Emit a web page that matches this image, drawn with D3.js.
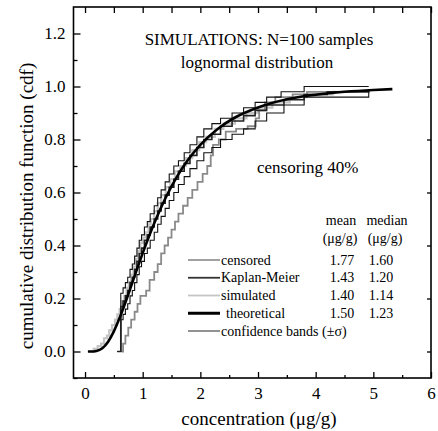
<!DOCTYPE html>
<html>
<head>
<meta charset="utf-8">
<script src="https://cdn.jsdelivr.net/npm/d3@7"></script>
<style>
  html, body { margin: 0; padding: 0; background: #fff; }
  svg { display: block; }
</style>
</head>
<body>
<svg id="chart" width="438" height="431" font-family="Liberation Serif"></svg>
<script>
// ---- data ----
const xTicks = [0, 1, 2, 3, 4, 5, 6];
const yTicks = [0.0, 0.2, 0.4, 0.6, 0.8, 1.0, 1.2];

const theoreticalX = [0.05, 0.1, 0.2, 0.3, 0.4, 0.5, 0.6, 0.7, 0.8, 0.9, 1.0, 1.2, 1.4, 1.6, 1.8, 2.0, 2.3, 2.6, 3.0, 3.5, 4.0, 4.5, 5.0, 5.33];
const theoreticalY = [0, 0, 0.002, 0.012, 0.037, 0.076, 0.127, 0.185, 0.247, 0.31, 0.371, 0.484, 0.581, 0.662, 0.727, 0.78, 0.84, 0.883, 0.921, 0.952, 0.969, 0.98, 0.987, 0.99];

const simulated = [[0.10,0],[0.15,0.01],[0.22,0.02],[0.28,0.03],[0.33,0.05],[0.38,0.06],[0.42,0.08],[0.47,0.10],[0.52,0.12],[0.56,0.14],[0.60,0.16],[0.64,0.19],[0.68,0.21],[0.72,0.24],[0.76,0.26],[0.80,0.29],[0.84,0.32],[0.88,0.35],[0.92,0.38],[0.96,0.41],[1.00,0.43],[1.05,0.45],[1.10,0.48],[1.14,0.50],[1.20,0.53],[1.26,0.56],[1.32,0.59],[1.40,0.62],[1.48,0.65],[1.56,0.68],[1.65,0.70],[1.75,0.73],[1.86,0.76],[1.98,0.79],[2.10,0.81],[2.25,0.84],[2.40,0.86],[2.60,0.88],[2.80,0.90],[3.00,0.92],[3.25,0.94],[3.55,0.96],[3.85,0.97],[4.30,0.98],[4.92,0.99]];

const censored = [[0.64,0],[0.66,0.03],[0.70,0.06],[0.75,0.09],[0.80,0.12],[0.86,0.15],[0.91,0.18],[0.96,0.21],[1.06,0.23],[1.12,0.27],[1.20,0.30],[1.26,0.33],[1.32,0.37],[1.38,0.40],[1.44,0.43],[1.50,0.46],[1.56,0.49],[1.62,0.52],[1.70,0.55],[1.78,0.58],[1.86,0.61],[1.95,0.64],[2.04,0.67],[2.12,0.70],[2.18,0.74],[2.22,0.78],[2.32,0.80],[2.44,0.83],[2.62,0.84],[2.82,0.85],[2.96,0.88],[3.02,0.91],[3.12,0.94],[3.30,0.96],[3.60,0.97],[3.85,0.98],[4.92,0.98]];

const kaplanMeier = [[0.56,0],[0.62,0.17],[0.66,0.19],[0.70,0.21],[0.74,0.23],[0.78,0.26],[0.82,0.28],[0.86,0.31],[0.90,0.34],[0.94,0.37],[0.98,0.39],[1.03,0.42],[1.08,0.44],[1.13,0.47],[1.20,0.50],[1.26,0.53],[1.32,0.56],[1.39,0.59],[1.46,0.62],[1.54,0.65],[1.62,0.68],[1.72,0.71],[1.82,0.74],[1.94,0.77],[2.06,0.80],[2.20,0.82],[2.35,0.85],[2.55,0.87],[2.75,0.89],[2.95,0.91],[3.15,0.93],[3.45,0.95],[3.80,0.97],[4.20,0.98],[4.92,0.99]];

const bandUpper = [[0.56,0],[0.62,0.22],[0.66,0.24],[0.70,0.26],[0.74,0.28],[0.78,0.31],[0.82,0.33],[0.86,0.36],[0.90,0.39],[0.94,0.42],[0.98,0.44],[1.03,0.47],[1.08,0.49],[1.13,0.52],[1.20,0.55],[1.26,0.58],[1.32,0.61],[1.39,0.64],[1.46,0.67],[1.54,0.70],[1.62,0.72],[1.72,0.75],[1.82,0.78],[1.94,0.81],[2.06,0.84],[2.20,0.86],[2.35,0.88],[2.55,0.90],[2.75,0.92],[2.95,0.94],[3.15,0.96],[3.40,0.98],[3.80,1.00],[4.92,1.00]];

const bandLower = [[0.56,0],[0.62,0.12],[0.66,0.14],[0.70,0.16],[0.74,0.18],[0.78,0.21],[0.82,0.23],[0.86,0.26],[0.90,0.29],[0.94,0.32],[0.98,0.34],[1.03,0.37],[1.08,0.39],[1.13,0.42],[1.20,0.45],[1.26,0.48],[1.32,0.51],[1.39,0.54],[1.46,0.57],[1.54,0.60],[1.62,0.63],[1.72,0.66],[1.82,0.69],[1.94,0.72],[2.06,0.75],[2.20,0.77],[2.35,0.80],[2.55,0.82],[2.75,0.84],[2.95,0.87],[3.15,0.90],[3.45,0.93],[3.80,0.96],[4.92,0.98]];

const legendLabels = ["censored", "Kaplan-Meier", "simulated", "theoretical", "confidence bands (\u00b1\u03c3)"];
const legendColors = ["#8a8a8a", "#333333", "#c4c4c4", "#000000", "#3a3a3a"];
const legendWidths = [1.6, 1.8, 1.8, 3, 1.1];
const meanValues = ["1.77", "1.43", "1.40", "1.50", ""];
const medianValues = ["1.60", "1.20", "1.14", "1.23", ""];

// ---- layout ----
const FONT = "Liberation Serif";
const svg = d3.select("#chart");
const pLeft = 73.5, pRight = 431, pTop = 7, pBottom = 378;
const x = d3.scaleLinear().domain([-0.2, 6]).range([pLeft, pRight]);
const y = d3.scaleLinear().domain([-0.1, 1.3]).range([pBottom, pTop]);

// axes
const axes = [];
axes.push(svg.append("g").attr("transform", `translate(0,${pBottom})`)
  .call(d3.axisBottom(x).tickValues(xTicks).tickFormat(d3.format("d")).tickSize(-6).tickSizeOuter(0).tickPadding(9)));
axes.push(svg.append("g").attr("transform", `translate(0,${pBottom})`)
  .call(d3.axisBottom(x).tickValues(d3.range(0.5, 6, 1)).tickFormat("").tickSize(-3).tickSizeOuter(0)));
axes.push(svg.append("g").attr("transform", `translate(0,${pTop})`)
  .call(d3.axisTop(x).tickValues(d3.range(0, 6.01, 0.5)).tickFormat("").tickSize(-6).tickSizeOuter(0)));
axes.push(svg.append("g").attr("transform", `translate(${pLeft},0)`)
  .call(d3.axisLeft(y).tickValues(yTicks).tickFormat(d3.format(".1f")).tickSize(-7).tickSizeOuter(0).tickPadding(8)));
axes.push(svg.append("g").attr("transform", `translate(${pLeft},0)`)
  .call(d3.axisLeft(y).tickValues([-0.1, 0.1, 0.3, 0.5, 0.7, 0.9, 1.1]).tickFormat("").tickSize(-4).tickSizeOuter(0)));
axes.push(svg.append("g").attr("transform", `translate(${pRight},0)`)
  .call(d3.axisRight(y).tickValues(yTicks).tickFormat("").tickSize(-4).tickSizeOuter(0)));
axes.forEach(g => g.attr("font-family", FONT).attr("font-size", 17));

svg.selectAll(".domain").remove();
svg.selectAll(".tick line").attr("stroke", "#000").attr("stroke-width", 1.3);

// frame
svg.append("rect").attr("x", pLeft).attr("y", pTop).attr("width", pRight - pLeft).attr("height", pBottom - pTop)
  .attr("fill", "none").attr("stroke", "#000").attr("stroke-width", 1.6);

// curves
const stepLine = d3.line().x(d => x(d[0])).y(d => y(d[1])).curve(d3.curveStepAfter);
const plot = svg.append("g");
plot.append("path").attr("d", stepLine(simulated)).attr("fill", "none").attr("stroke", "#c4c4c4").attr("stroke-width", 2.2);
plot.append("path").attr("d", stepLine(censored)).attr("fill", "none").attr("stroke", "#8a8a8a").attr("stroke-width", 1.8);
plot.append("path").attr("d", stepLine(bandUpper)).attr("fill", "none").attr("stroke", "#111").attr("stroke-width", 1.1);
plot.append("path").attr("d", stepLine(bandLower)).attr("fill", "none").attr("stroke", "#111").attr("stroke-width", 1.1);
plot.append("path").attr("d", stepLine(kaplanMeier)).attr("fill", "none").attr("stroke", "#222").attr("stroke-width", 1.6);

const theo = theoreticalX.map((v, i) => [v, theoreticalY[i]]);
plot.append("path")
  .attr("d", d3.line().x(d => x(d[0])).y(d => y(d[1])).curve(d3.curveMonotoneX)(theo))
  .attr("fill", "none").attr("stroke", "#000").attr("stroke-width", 2.6);

// texts
svg.append("text").attr("x", 259).attr("y", 45).attr("text-anchor", "middle").attr("font-size", 17)
  .text("SIMULATIONS: N=100 samples");
svg.append("text").attr("x", 257).attr("y", 68).attr("text-anchor", "middle").attr("font-size", 17)
  .text("lognormal distribution");
svg.append("text").attr("x", 257).attr("y", 173).attr("font-size", 17).text("censoring 40%");

svg.append("text").attr("transform", "translate(33,206) rotate(-90)").attr("text-anchor", "middle")
  .attr("font-size", 19).text("cumulative distribution function (cdf)");
svg.append("text").attr("x", 259).attr("y", 425).attr("text-anchor", "middle")
  .attr("font-size", 19).text("concentration (\u03bcg/g)");

// legend
const lg = svg.append("g").attr("font-size", 14);
lg.append("text").attr("x", 341).attr("y", 225).attr("text-anchor", "middle").text("mean");
lg.append("text").attr("x", 387).attr("y", 225).attr("text-anchor", "middle").text("median");
lg.append("text").attr("x", 340).attr("y", 243).attr("text-anchor", "middle").text("(\u03bcg/g)");
lg.append("text").attr("x", 385).attr("y", 243).attr("text-anchor", "middle").text("(\u03bcg/g)");
const rowY = d3.scaleLinear().domain([0, 4]).range([260, 331]);
legendLabels.forEach((lab, i) => {
  const yy = rowY(i);
  lg.append("line").attr("x1", 188).attr("x2", 220).attr("y1", yy).attr("y2", yy)
    .attr("stroke", legendColors[i]).attr("stroke-width", legendWidths[i]);
  lg.append("text").attr("x", i === 3 ? 226 : 221).attr("y", yy + 4.5).text(lab);
  if (meanValues[i]) lg.append("text").attr("x", 342).attr("y", yy + 4.5).attr("text-anchor", "middle").text(meanValues[i]);
  if (medianValues[i]) lg.append("text").attr("x", 381).attr("y", yy + 4.5).attr("text-anchor", "middle").text(medianValues[i]);
});

svg.selectAll("text").attr("font-family", FONT).attr("fill", "#000");
</script>
</body>
</html>
